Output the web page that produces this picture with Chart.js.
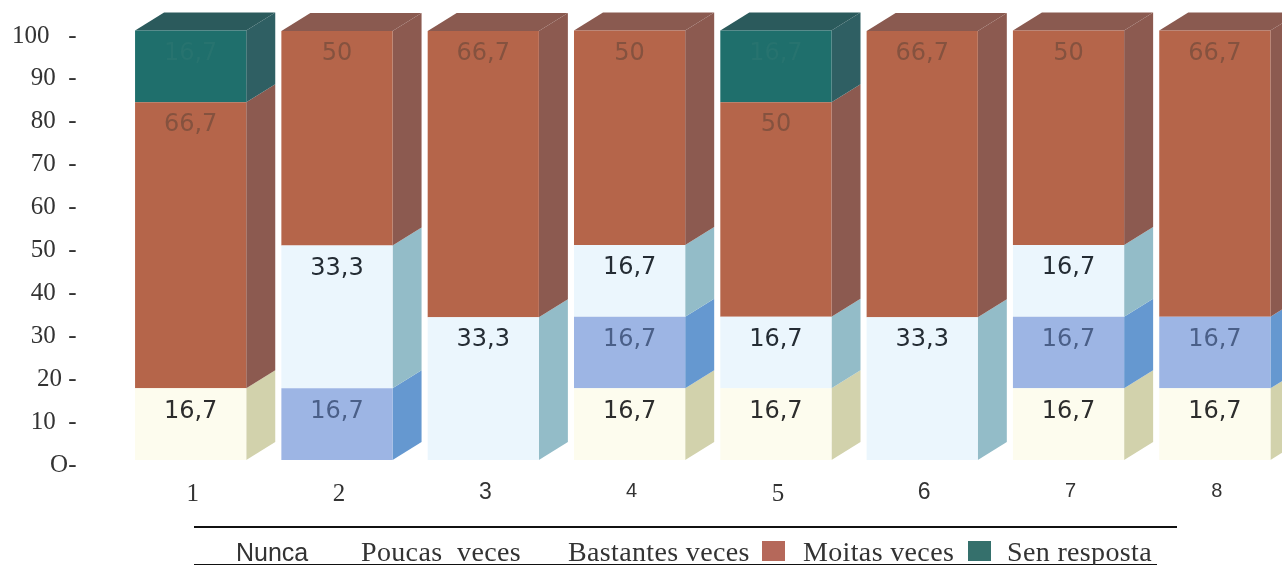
<!DOCTYPE html>
<html>
<head>
<meta charset="utf-8">
<title>Gráfica</title>
<script src="https://cdn.jsdelivr.net/npm/chart.js@4"></script>
<style>
html, body { margin: 0; padding: 0; background: #fff; overflow: hidden; }
#wrap { position: relative; width: 1282px; height: 565px; overflow: hidden; }
#grafica { position: absolute; left: 0; top: 0; }
.linea { position: absolute; background: #111; }
.ley { position: absolute; white-space: pre; color: #333; font-family: "Liberation Serif", serif; font-size: 28px; line-height: 30px; top: 537px; letter-spacing: 0.35px; }
.cuadro { position: absolute; top: 541px; width: 23px; height: 20px; }
</style>
</head>
<body>
<div id="wrap">
    <canvas id="grafica" width="1288" height="565"></canvas>
    <div class="linea" style="left:194px;top:526px;width:983px;height:2px"></div>
    <div class="linea" style="left:194px;top:564px;width:963px;height:1px"></div>
</div>
<script>
// Datos
const categorias = ['1', '2', '3', '4', '5', '6', '7', '8'];
const etiquetasY = ['O-', '10  -', '20 -', '30  -', '40  -', '50  -', '60  -', '70  -', '80  -', '90  -', '100   -'];
const series = ['Nunca', 'Poucas  veces', 'Bastantes veces', 'Moitas veces', 'Sen resposta'];

const nunca = [16.7, 0, 0, 16.7, 16.7, 0, 16.7, 16.7];
const poucas = [0, 16.7, 0, 16.7, 0, 0, 16.7, 16.7];
const bastantes = [0, 33.3, 33.3, 16.7, 16.7, 33.3, 16.7, 0];
const moitas = [66.7, 50, 66.7, 50, 50, 66.7, 50, 66.7];
const senResposta = [16.7, 0, 0, 0, 16.7, 0, 0, 0];

// frente, lateral, tapa, color del numero
const estilos = [
    ['#fdfcee', '#d2d2ac', '#e6e6c8', '#2c2c2c'],
    ['#9db5e4', '#6598d0', '#7fa8da', '#4a5f88'],
    ['#ebf6fd', '#93bcc8', '#bcd8e0', '#242c34'],
    ['#b5654a', '#8c5a50', '#8a5a50', '#85523f'],
    ['#1f6f6c', '#2f5f63', '#2b5a5c', '#27736f']
];
const valores = [nunca, poucas, bastantes, moitas, senResposta];
const fondoX = 29, fondoY = 18;

// Cara lateral y tapa de cada barra
const caras3d = {
    id: 'caras3d',
    beforeDatasetsDraw(chart) {
        const ctx = chart.ctx;
        chart.data.datasets.forEach((ds, i) => {
            chart.getDatasetMeta(i).data.forEach((bar, j) => {
                if (!ds.data[j]) return;
                const p = bar.getProps(['x', 'y', 'base', 'width'], true);
                const der = p.x + p.width / 2;
                const izq = p.x - p.width / 2;
                ctx.fillStyle = estilos[i][1];
                ctx.beginPath();
                ctx.moveTo(der, p.base);
                ctx.lineTo(der + fondoX, p.base - fondoY);
                ctx.lineTo(der + fondoX, p.y - fondoY);
                ctx.lineTo(der, p.y);
                ctx.closePath();
                ctx.fill();
                // la tapa solo se ve en el ultimo tramo de la pila
                let arriba = true;
                for (let k = i + 1; k < valores.length; k++) {
                    if (valores[k][j]) arriba = false;
                }
                if (arriba) {
                    ctx.fillStyle = estilos[i][2];
                    ctx.beginPath();
                    ctx.moveTo(izq, p.y);
                    ctx.lineTo(izq + fondoX, p.y - fondoY);
                    ctx.lineTo(der + fondoX, p.y - fondoY);
                    ctx.lineTo(der, p.y);
                    ctx.closePath();
                    ctx.fill();
                }
            });
        });
    }
};

// Numeros sobre cada tramo
const numeros = {
    id: 'numeros',
    afterDatasetsDraw(chart) {
        const ctx = chart.ctx;
        ctx.save();
        ctx.font = '24px "DejaVu Sans"';
        ctx.textAlign = 'center';
        ctx.textBaseline = 'middle';
        chart.data.datasets.forEach((ds, i) => {
            chart.getDatasetMeta(i).data.forEach((bar, j) => {
                if (!ds.data[j]) return;
                const p = bar.getProps(['x', 'y'], true);
                ctx.fillStyle = estilos[i][3];
                ctx.fillText(String(ds.data[j]).replace('.', ','), p.x, p.y + 23);
            });
        });
        ctx.restore();
    }
};

new Chart(document.getElementById('grafica').getContext('2d'), {
    type: 'bar',
    data: {
        labels: categorias,
        datasets: series.map((nombre, i) => ({
            label: nombre,
            data: valores[i],
            backgroundColor: estilos[i][0],
            borderWidth: 0,
            clip: false
        }))
    },
    options: {
        responsive: false,
        animation: false,
        categoryPercentage: 1,
        barPercentage: 0.76,
        layout: { padding: { top: 31 } },
        plugins: { legend: { display: false }, tooltip: { enabled: false } },
        scales: {
            x: {
                stacked: true,
                grid: { display: false },
                border: { display: false },
                afterFit(scale) { scale.height = 105; },
                ticks: {
                    maxRotation: 0,
                    autoSkip: false,
                    padding: 11,
                    labelOffset: 2,
                    color: '#333',
                    font(c) {
                        const serif = [0, 1, 4].includes(c.index);
                        return { family: serif ? 'Liberation Serif' : 'Liberation Sans', size: serif ? 25 : (c.index === 2 || c.index === 5 ? 23 : 20) };
                    }
                }
            },
            y: {
                stacked: true,
                min: 0,
                max: 100,
                grid: { display: false },
                border: { display: false },
                afterFit(scale) {
                    scale.width = 117.5;
                    scale.paddingTop = 0;
                    scale.paddingBottom = 0;
                },
                ticks: {
                    stepSize: 10,
                    padding: 33,
                    labelOffset: 5,
                    color: '#333',
                    font: { family: 'Liberation Serif', size: 25 },
                    callback(v) { return etiquetasY[v / 10]; }
                }
            }
        }
    },
    plugins: [caras3d, numeros]
});

// Leyenda: solo las dos ultimas series llevan cuadro
const posLeyenda = [236, 361, 568, 803, 1007];
const posCuadros = { 3: 762, 4: 968 };
const wrap = document.getElementById('wrap');
series.forEach((nombre, i) => {
    const t = document.createElement('div');
    t.className = 'ley';
    t.textContent = nombre;
    t.style.left = posLeyenda[i] + 'px';
    if (i === 0) { t.style.fontFamily = '"Liberation Sans"'; t.style.fontSize = '25px'; t.style.letterSpacing = '0'; }
    wrap.appendChild(t);
    if (posCuadros[i]) {
        const c = document.createElement('div');
        c.className = 'cuadro';
        c.style.left = posCuadros[i] + 'px';
        c.style.background = i === 3 ? '#b5685a' : '#35706c';
        wrap.appendChild(c);
    }
});
</script>
</body>
</html>
